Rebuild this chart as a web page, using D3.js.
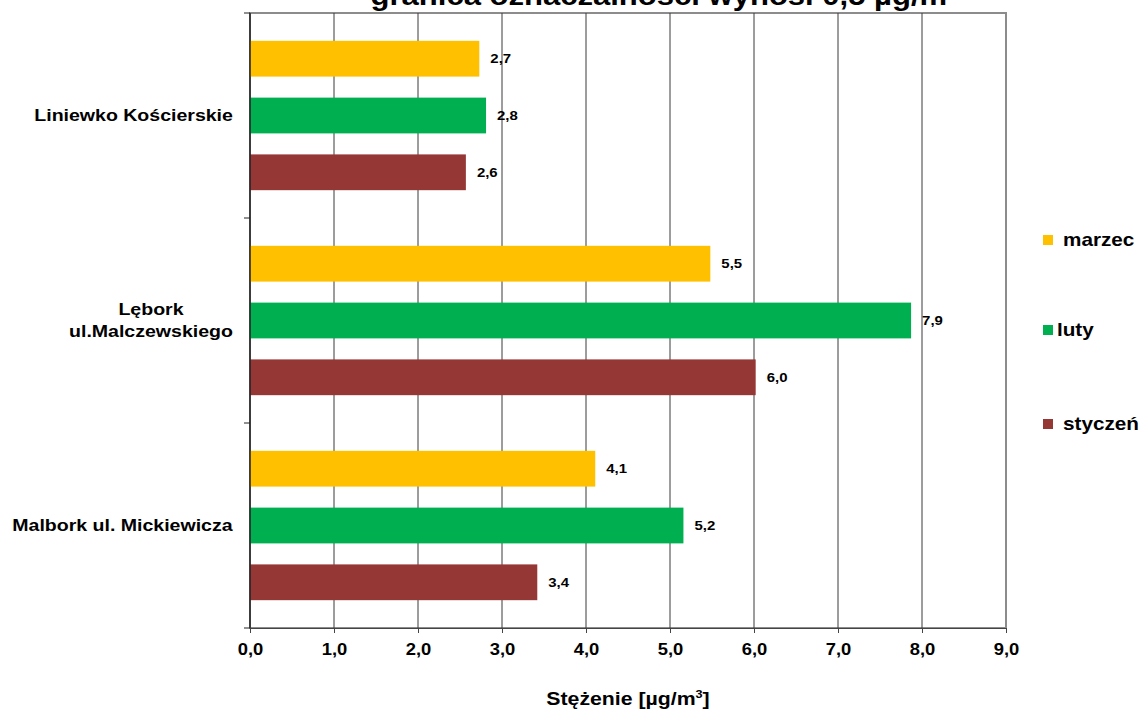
<!DOCTYPE html>
<html><head><meta charset="utf-8">
<script src="https://cdn.jsdelivr.net/npm/d3@7/dist/d3.min.js"></script>
<style>body{margin:0;background:#fff}svg{display:block;font-family:Arial,"Liberation Sans",sans-serif}</style>
</head><body><svg id="c" width="1142" height="711"></svg>
<script>
const categories = ["Liniewko Kościerskie", "Lębork\nul.Malczewskiego", "Malbork ul. Mickiewicza"];
const series = ["marzec", "luty", "styczeń"];
const seriesColors = ["#FFC000", "#00B050", "#953735"];
const marzec = [2.73, 5.48, 4.11];
const luty = [2.81, 7.87, 5.16];
const styczen = [2.57, 6.02, 3.42];
const xTicks = [0,1,2,3,4,5,6,7,8,9];
const titleText = "granica oznaczalności wynosi 0,5 µg/m³";

const values = [marzec, luty, styczen];
const SX = 1.15; // horizontal stretch of the reference text
const svg = d3.select("#c");
const L = 250, R = 1006, T = 13, B = 628;
const x = d3.scaleLinear().domain([0,9]).range([L,R]);
const y0 = d3.scaleBand().domain(categories).range([T,B]);
const y1 = d3.scaleBand().domain(series).range([0,y0.bandwidth()]).paddingInner(0.37).paddingOuter(0.49);
const fmt = v => d3.format(".1f")(v).replace(".", ",");
const place = (tx,ty) => `translate(${tx},${ty}) scale(${SX},1)`;

// title (clipped at top)
svg.append("text").attr("transform",place(664,5)).attr("text-anchor","middle")
  .attr("font-size",27).attr("font-weight","bold").text(titleText);

// plot border
svg.append("rect").attr("x",L).attr("y",T).attr("width",R-L).attr("height",B-T)
  .attr("fill","none").attr("stroke","#8c8c8c").attr("stroke-width",2);

// gridlines
svg.append("g").selectAll("line").data(xTicks.slice(1,-1)).join("line")
  .attr("x1",d=>x(d)).attr("x2",d=>x(d)).attr("y1",T).attr("y2",B)
  .attr("stroke","#3a3a3a").attr("stroke-width",1);

// bars
const g = svg.append("g");
categories.forEach((c,ci)=>{
  series.forEach((s,si)=>{
    const v = values[si][ci];
    const yy = y0(c)+y1(s);
    g.append("rect").attr("x",x(0)).attr("y",yy).attr("width",x(v)-x(0)).attr("height",y1.bandwidth())
      .attr("fill",seriesColors[si]);
    g.append("text").attr("transform",place(x(v)+11, yy+y1.bandwidth()/2)).attr("dy","0.35em")
      .attr("font-size",13).attr("font-weight","bold").text(fmt(v));
  });
});

// x axis
const xa = svg.append("g").attr("transform",`translate(0,${B})`)
  .call(d3.axisBottom(x).tickValues(xTicks).tickSize(5).tickFormat(fmt));
xa.select(".domain").attr("stroke","#444");
xa.selectAll(".tick line").attr("stroke","#444");
xa.selectAll(".tick text").attr("font-size",16).attr("font-weight","bold").attr("y",16)
  .attr("fill","#000").attr("font-family","Arial, Liberation Sans, sans-serif")
  .attr("transform",`scale(${SX},1)`);

// y axis
const ya = svg.append("g").attr("transform",`translate(${L},0)`);
ya.append("line").attr("x1",0).attr("x2",0).attr("y1",T).attr("y2",B).attr("stroke","#222").attr("stroke-width",1.5);
const bounds = categories.map(c=>y0(c)).concat([B]);
ya.selectAll("line.tk").data(bounds).join("line").attr("class","tk")
  .attr("x1",-6).attr("x2",0).attr("y1",d=>d).attr("y2",d=>d).attr("stroke","#222");

// category labels
categories.forEach(c=>{
  const lines = c.split("\n");
  const cy = y0(c)+y0.bandwidth()/2;
  const t = svg.append("text").attr("font-size",17).attr("font-weight","bold").attr("text-anchor","middle");
  lines.forEach((ln,i)=>{
    t.append("tspan").attr("x",0).attr("y",(i-(lines.length-1)/2)*22).attr("dy","0.35em").text(ln);
  });
  const w = t.node().getBBox().width*SX;
  t.attr("transform",place(233-w/2, cy));
});

// axis title
svg.append("text").attr("transform",place(628,705)).attr("text-anchor","middle")
  .attr("font-size",18.5).attr("font-weight","bold")
  .html('Stężenie [µg/m<tspan font-size="11" dy="-7">3</tspan><tspan dy="7">]</tspan>');

// legend
const legY = [240, 330, 424];
series.forEach((s,i)=>{
  svg.append("rect").attr("x",1043).attr("y",legY[i]-5).attr("width",10).attr("height",10).attr("fill",seriesColors[i]);
  svg.append("text").attr("transform",place(i===1?1057:1063, legY[i])).attr("dy","0.35em")
    .attr("font-size",18).attr("font-weight","bold").text(s);
});
</script></body></html>
